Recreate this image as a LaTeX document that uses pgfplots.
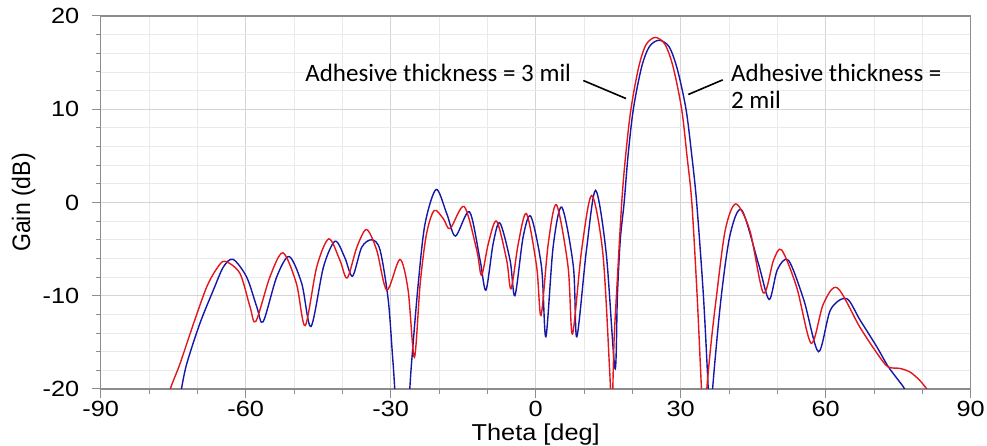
\documentclass[border=0pt]{standalone}
\usepackage{graphicx}
\usepackage{fontspec}
\setmainfont{Liberation Sans}
\newfontfamily\tickfont[FakeStretch=1.15]{Liberation Sans}
\newfontfamily\labfont[FakeStretch=1.1]{Liberation Sans}
\newfontfamily\annfont{Carlito}
\usepackage{pgfplots}
\usepackage{pgfplotstable}
\pgfplotsset{compat=1.18}
\definecolor{cred}{RGB}{228,22,28}
\definecolor{cblue}{RGB}{22,22,168}
\definecolor{axgray}{RGB}{140,140,140}
\definecolor{majgrid}{RGB}{212,212,212}
\definecolor{mingrid}{RGB}{234,234,234}

\pgfplotstableread{
x y
-76.0 -21.5
-75.6 -20
-73.6 -17.3
-70.8 -13.0
-68.1 -9.1
-66.0 -7.1
-64.3 -6.3
-61.2 -7.6
-59.1 -11.2
-57.9 -12.75
-55.0 -8.0
-52.3 -5.4
-49.5 -8.7
-47.7 -13.2
-45.3 -6.9
-42.8 -3.9
-40.5 -6.2
-39.0 -8.1
-37.0 -4.8
-35.0 -2.9
-32.9 -5.1
-30.8 -9.4
-28.1 -6.1
-26.4 -9.4
-25.1 -16.6
-23.9 -8.7
-22.6 -3.4
-21.0 -0.86
-19.1 -1.75
-17.7 -2.8
-14.8 -0.43
-12.2 -5.1
-11.2 -7.8
-9.8 -4.4
-8.1 -2.0
-6.0 -6.2
-5.1 -9.25
-3.6 -4.4
-1.9 -1.2
0.2 -6.9
1.1 -12.1
2.6 -4.4
4.3 -0.25
6.7 -6.9
7.6 -14.1
9.5 -5.1
11.6 0.75
13.9 -5.5
15.3 -18
15.75 -23
16.2 -15
16.7 -10
17.8 0
18.6 5
19.7 10
21.3 14.5
22.8 16.9
24.7 17.7
26.7 17.0
28.4 14.6
30.2 10
31.3 5
32.3 0
33.4 -10
34.3 -20
34.85 -25
35.4 -20
36.3 -15
37.3 -10.5
39.2 -3.0
41.4 -0.15
44.3 -3.0
47.1 -9.7
49.2 -6.2
50.9 -5.1
54.0 -9.1
57.0 -15.1
59.5 -10.9
62.4 -9.15
67.1 -13.4
71.2 -16.6
73.0 -17.65
75.4 -17.8
77.5 -18.2
79.5 -19.1
80.9 -20
81.5 -20.6
}\redtable

\pgfplotstableread{
x y
-73.8 -21.5
-73.3 -20
-72.2 -17.3
-69.5 -13.0
-66.7 -9.4
-64.6 -6.9
-62.6 -6.1
-59.8 -8.0
-57.7 -11.2
-56.4 -12.8
-53.6 -8.0
-51.0 -5.8
-48.4 -8.7
-46.5 -13.3
-43.9 -6.9
-41.5 -4.15
-39.5 -5.9
-37.9 -7.9
-36.0 -4.8
-33.9 -4.0
-32.2 -5.1
-30.5 -10.5
-29.5 -17.3
-27.6 -30
-25.7 -17.3
-24.3 -8.7
-22.9 -2.3
-20.6 1.4
-18.4 -1.2
-16.6 -3.6
-13.7 -1.0
-11.5 -6.2
-10.3 -9.4
-8.8 -4.4
-7.4 -2.2
-5.3 -6.2
-4.3 -10.0
-2.6 -3.7
-1.0 -1.5
1.2 -6.9
2.1 -14.4
3.6 -4.8
5.4 -0.5
7.8 -6.9
8.5 -14.4
10.5 -5.1
12.4 1.3
14.6 -5.5
16.4 -17.8
16.9 -10
17.5 -4
18.3 0
19.1 5
20.2 10
21.9 14.5
23.5 16.7
25.5 17.4
27.6 16.7
29.3 14.3
31.1 10
32.3 5
33.3 0
34.7 -10
35.7 -20
36.15 -25
36.6 -20
38.3 -10.5
40.2 -3.5
42.6 -0.8
46.1 -6.6
48.3 -10.4
50.0 -7.2
52.3 -6.2
55.5 -10.5
58.5 -16.0
61.0 -11.5
64.3 -10.3
67.1 -12.6
70.6 -15.5
73.0 -17.65
76.1 -19.8
76.6 -20.5
}\bluetable

\begin{document}
\begin{tikzpicture}
\begin{axis}[
  scale only axis,
  width=870pt, height=373pt,
  xmin=-90, xmax=90, ymin=-20, ymax=20,
  xtick={-90,-60,...,90}, ytick={-20,-10,...,20},
  minor x tick num=2, minor y tick num=4,
  grid=both,
  major grid style={majgrid, line width=0.8pt},
  minor grid style={mingrid, line width=0.8pt},
  axis line style={axgray, line width=1.3pt},
  tick style={axgray, line width=1pt},
  tick align=outside,
  major tick length=9pt, minor tick length=5pt,
  xtick pos=bottom, ytick pos=left,
  /pgf/number format/assume math mode=true,
  tick label style={font=\tickfont\fontsize{22}{26}\selectfont},
  yticklabel style={xshift=-9pt},
  clip mode=individual,
]
\addplot[cblue, line width=1.4pt, smooth] table[x=x,y=y] {\bluetable};
\addplot[cred, line width=1.4pt, smooth] table[x=x,y=y] {\redtable};

\draw[black, line width=1.6pt] (axis cs:9.85,13.08) -- (axis cs:18.68,11.15);
\draw[black, line width=1.6pt] (axis cs:31.57,11.58) -- (axis cs:38.69,13.15);
\node[anchor=base west, inner sep=0pt, font=\annfont\fontsize{25}{30}\selectfont] at (axis cs:-47.7,12.97) {Adhesive thickness = 3 mil};
\node[anchor=base west, inner sep=0pt, font=\annfont\fontsize{25}{30}\selectfont] at (axis cs:40.4,12.97) {Adhesive thickness =};
\node[anchor=base west, inner sep=0pt, font=\annfont\fontsize{25}{30}\selectfont] at (axis cs:40.4,10.04) {2 mil};

\node[rotate=90, anchor=center, inner sep=0pt] at ([xshift=-77pt]axis description cs:0,0.5) {\scalebox{1}[1.1]{\fontsize{23}{27}\selectfont Gain (dB)}};
\node[anchor=base, inner sep=0pt, font=\labfont\fontsize{23}{27}\selectfont] at ([yshift=-52pt]axis description cs:0.5,0) {Theta [deg]};
\end{axis}
\pgfresetboundingbox
\path[use as bounding box] ([shift={(-100.7pt,-57pt)}]current axis.south west) rectangle ([shift={(16.3pt,16pt)}]current axis.north east);
\end{tikzpicture}
\end{document}
